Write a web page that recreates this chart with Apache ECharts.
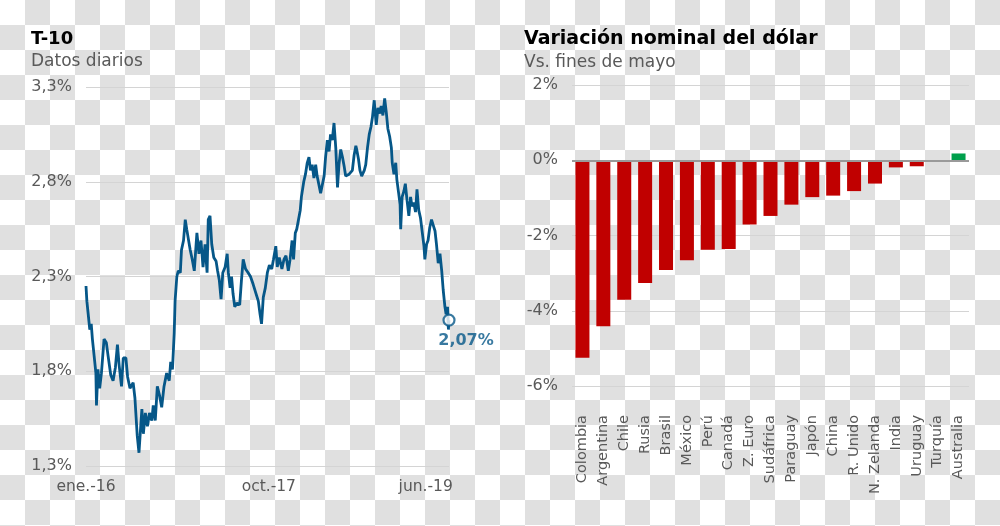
<!DOCTYPE html>
<html>
<head>
<meta charset="utf-8">
<script src="https://cdn.jsdelivr.net/npm/echarts@6/dist/echarts.min.js"></script>
<style>
  html, body { margin: 0; padding: 0; }
  body {
    background-color: #fff;
    background-image: conic-gradient(#e0e0e0 0 25%, #fff 0 50%, #e0e0e0 0 75%, #fff 0);
    background-size: 50px 50px;
  }
  #main { width: 1000px; height: 526px; }
</style>
</head>
<body>
<div id="main"></div>
<script>
// T-10, datos diarios
const fechas = [
  "2016-01-04","2016-01-07","2016-01-11","2016-01-17","2016-01-22","2016-01-26","2016-02-01","2016-02-07","2016-02-09","2016-02-14",
  "2016-02-20","2016-02-26","2016-03-06","2016-03-14","2016-03-20","2016-03-29","2016-04-06","2016-04-14","2016-04-21","2016-04-27",
  "2016-05-05","2016-05-11","2016-05-20","2016-05-26","2016-06-03","2016-06-14","2016-06-20","2016-06-24","2016-06-28","2016-07-04",
  "2016-07-10","2016-07-14","2016-07-19","2016-07-26","2016-08-02","2016-08-09","2016-08-17","2016-08-22","2016-08-29","2016-09-05",
  "2016-09-13","2016-09-20","2016-09-28","2016-10-07","2016-10-16","2016-10-21","2016-10-27","2016-11-02","2016-11-05","2016-11-11",
  "2016-11-16","2016-11-23","2016-11-27","2016-12-04","2016-12-10","2016-12-15","2016-12-21","2016-12-27",
  "2017-01-03","2017-01-10","2017-01-19","2017-01-26","2017-02-02","2017-02-09","2017-02-16","2017-02-23","2017-02-27","2017-03-05",
  "2017-03-11","2017-03-18","2017-03-26","2017-03-31","2017-04-06","2017-04-12","2017-04-18","2017-04-26","2017-05-03","2017-05-07",
  "2017-05-13","2017-05-18","2017-05-23","2017-05-29","2017-06-06","2017-06-15","2017-06-21","2017-06-27","2017-07-05","2017-07-14",
  "2017-07-22","2017-07-31","2017-08-10","2017-08-18","2017-08-24","2017-08-29","2017-09-04","2017-09-11","2017-09-18","2017-09-25",
  "2017-10-03","2017-10-09","2017-10-17","2017-10-22","2017-10-29","2017-11-07","2017-11-14","2017-11-21","2017-11-29","2017-12-05",
  "2017-12-12","2017-12-17","2017-12-23","2017-12-28",
  "2018-01-03","2018-01-09","2018-01-13","2018-01-21","2018-01-27","2018-02-02","2018-02-08","2018-02-13","2018-02-19","2018-02-25",
  "2018-03-03","2018-03-08","2018-03-14","2018-03-20","2018-03-26","2018-04-01","2018-04-06","2018-04-12","2018-04-18","2018-04-23",
  "2018-04-29","2018-05-05","2018-05-11","2018-05-17","2018-05-22","2018-05-28","2018-06-03","2018-06-09","2018-06-14","2018-06-20",
  "2018-06-26","2018-07-01","2018-07-07","2018-07-13","2018-07-19","2018-07-22","2018-07-28","2018-08-02","2018-08-08","2018-08-17",
  "2018-08-22","2018-08-28","2018-09-03","2018-09-09","2018-09-14","2018-09-20","2018-09-27","2018-10-03","2018-10-09","2018-10-14",
  "2018-10-20","2018-10-26","2018-11-01","2018-11-06","2018-11-12","2018-11-18","2018-11-21","2018-11-27","2018-12-03","2018-12-07",
  "2018-12-13","2018-12-18","2018-12-20","2018-12-25","2018-12-31",
  "2019-01-05","2019-01-11","2019-01-17","2019-01-23","2019-01-28","2019-02-03","2019-02-09","2019-02-14","2019-02-20","2019-02-26",
  "2019-03-04","2019-03-10","2019-03-13","2019-03-19","2019-03-24","2019-03-30","2019-04-05","2019-04-11","2019-04-17","2019-04-22",
  "2019-04-28","2019-05-04","2019-05-10","2019-05-15","2019-05-21","2019-05-25","2019-05-30","2019-06-02","2019-06-04"
];
const t10 = [
  2.25,2.17,2.11,2.02,2.05,1.97,1.88,1.79,1.62,1.81,
  1.71,1.79,1.97,1.95,1.88,1.78,1.75,1.82,1.94,1.83,
  1.72,1.87,1.87,1.77,1.71,1.74,1.66,1.56,1.46,1.37,
  1.51,1.60,1.47,1.58,1.51,1.58,1.54,1.62,1.54,1.72,
  1.67,1.61,1.72,1.79,1.75,1.85,1.81,2.00,2.17,2.30,
  2.33,2.32,2.44,2.49,2.60,2.55,2.56,2.44,
  2.39,2.33,2.53,2.42,2.49,2.35,2.47,2.32,2.60,2.62,
  2.47,2.40,2.38,2.33,2.28,2.18,2.32,2.35,2.42,2.32,
  2.24,2.30,2.21,2.14,2.16,2.15,2.28,2.39,2.34,2.32,
  2.30,2.26,2.21,2.17,2.10,2.05,2.19,2.24,2.32,2.36,
  2.34,2.39,2.46,2.35,2.40,2.34,2.39,2.41,2.33,2.39,
  2.49,2.39,2.53,2.55,
  2.54,2.65,2.72,2.80,2.84,2.90,2.93,2.86,2.89,2.82,
  2.89,2.83,2.82,2.74,2.73,2.83,2.93,3.02,2.96,3.05,
  3.02,3.11,2.98,2.77,2.89,2.97,2.93,2.88,2.83,2.82,
  2.84,2.83,2.86,2.94,2.99,2.97,2.92,2.86,2.83,2.86,
  2.89,2.98,3.05,3.09,3.14,3.23,3.10,3.19,3.16,3.20,
  3.15,3.24,3.16,3.08,3.04,2.98,2.90,2.84,2.90,2.81,
  2.74,2.68,2.55,2.72,2.75,
  2.79,2.70,2.62,2.72,2.67,2.69,2.64,2.76,2.65,2.61,
  2.60,2.46,2.39,2.47,2.49,2.56,2.60,2.57,2.54,2.47,
  2.37,2.42,2.33,2.23,2.14,2.10,2.14,2.02,2.07
];
const etiquetasFechas = ["2016-01-04", "2017-09-23", "2019-03-16"];
const etiquetasX = ["ene.-16", "oct.-17", "jun.-19"];

// Variacion nominal del dolar vs. fines de mayo (%)
const paises = ["Colombia", "Argentina", "Chile", "Rusia", "Brasil", "México", "Perú", "Canadá", "Z. Euro", "Sudáfrica",
  "Paraguay", "Japón", "China", "R. Unido", "N. Zelanda", "India", "Uruguay", "Turquía", "Australia"];
const variacion = [-5.25, -4.41, -3.71, -3.26, -2.92, -2.66, -2.38, -2.36, -1.71, -1.48,
  -1.18, -0.98, -0.94, -0.82, -0.62, -0.19, -0.16, -0.04, 0.18];

const chart = echarts.init(document.getElementById("main"));
const font = "DejaVu Sans";
const gris = "#595959";
const azul = "#065788";
const toTime = d => +echarts.time.parse(d);
const labelTimes = etiquetasFechas.map(toTime);
const ultimo = fechas.length - 1;

const option = {
  animation: false,
  textStyle: { fontFamily: font },
  title: [
    { text: "T-10", left: 31, top: 30, padding: 0, textStyle: { fontFamily: font, fontSize: 18, fontWeight: "bold", color: "#000" } },
    { text: "Datos diarios", left: 31, top: 53, padding: 0, textStyle: { fontFamily: font, fontSize: 17, fontWeight: "normal", color: gris } },
    { text: "Variación nominal del dólar", left: 524, top: 30, padding: 0, textStyle: { fontFamily: font, fontSize: 19, fontWeight: "bold", color: "#000" } },
    { text: "Vs. fines de mayo", left: 524, top: 54, padding: 0, textStyle: { fontFamily: font, fontSize: 17, fontWeight: "normal", color: gris } }
  ],
  grid: [
    { left: 86, right: 551, top: 87, bottom: 60 },
    { left: 572, right: 31, top: 85, bottom: 140 }
  ],
  xAxis: [
    {
      type: "value",
      gridIndex: 0,
      min: toTime(fechas[0]),
      max: toTime(fechas[ultimo]),
      axisLine: { show: false },
      axisTick: { show: false },
      splitLine: { show: false },
      axisLabel: {
        customValues: labelTimes,
        margin: 13,
        fontSize: 15.5,
        color: gris,
        fontFamily: font,
        formatter: function (v) {
          for (let i = 0; i < labelTimes.length; i++) {
            if (Math.abs(labelTimes[i] - v) < 86400000) return etiquetasX[i];
          }
          return "";
        }
      }
    },
    {
      type: "category",
      gridIndex: 1,
      data: paises,
      position: "bottom",
      axisLine: { show: false, onZero: false },
      axisTick: { show: false },
      axisLabel: { interval: 0, rotate: 90, margin: 29, fontSize: 14.5, color: gris, fontFamily: font }
    }
  ],
  yAxis: [
    {
      type: "value",
      gridIndex: 0,
      min: 1.3,
      max: 3.3,
      interval: 0.5,
      axisLine: { show: false },
      axisTick: { show: false },
      splitLine: { lineStyle: { color: "#d4d4d4", width: 1 } },
      axisLabel: {
        margin: 14,
        fontSize: 16,
        color: gris,
        fontFamily: font,
        formatter: v => v.toFixed(1).replace(".", ",") + "%"
      }
    },
    {
      type: "value",
      gridIndex: 1,
      min: -6,
      max: 2,
      interval: 2,
      axisLine: { show: false },
      axisTick: { show: false },
      splitLine: { lineStyle: { color: "#d4d4d4", width: 1 } },
      axisLabel: { margin: 14, fontSize: 16, color: gris, fontFamily: font, formatter: v => v + "%" }
    }
  ],
  series: [
    {
      type: "line",
      xAxisIndex: 0,
      yAxisIndex: 0,
      data: fechas.map((f, i) => [toTime(f), t10[i]]),
      showSymbol: false,
      lineStyle: { color: azul, width: 2.8 },
      z: 3
    },
    {
      type: "scatter",
      xAxisIndex: 0,
      yAxisIndex: 0,
      data: [[toTime(fechas[ultimo]), t10[ultimo]]],
      symbolSize: 11,
      itemStyle: { color: "#fff", borderColor: azul, borderWidth: 2.2 },
      label: {
        show: true,
        position: "bottom",
        distance: 3,
        offset: [17, 3],
        fontFamily: font,
        fontSize: 16,
        fontWeight: "bold",
        color: azul,
        formatter: p => p.value[1].toFixed(2).replace(".", ",") + "%"
      },
      z: 4
    },
    {
      type: "bar",
      xAxisIndex: 1,
      yAxisIndex: 1,
      data: variacion,
      barWidth: 14,
      itemStyle: { color: p => (p.value >= 0 ? "#00a04c" : "#c00000") },
      markLine: {
        silent: true,
        symbol: "none",
        label: { show: false },
        lineStyle: { color: "#9a9a9a", width: 2, type: "solid" },
        data: [{ yAxis: 0 }]
      }
    }
  ]
};

chart.setOption(option);
</script>
</body>
</html>
